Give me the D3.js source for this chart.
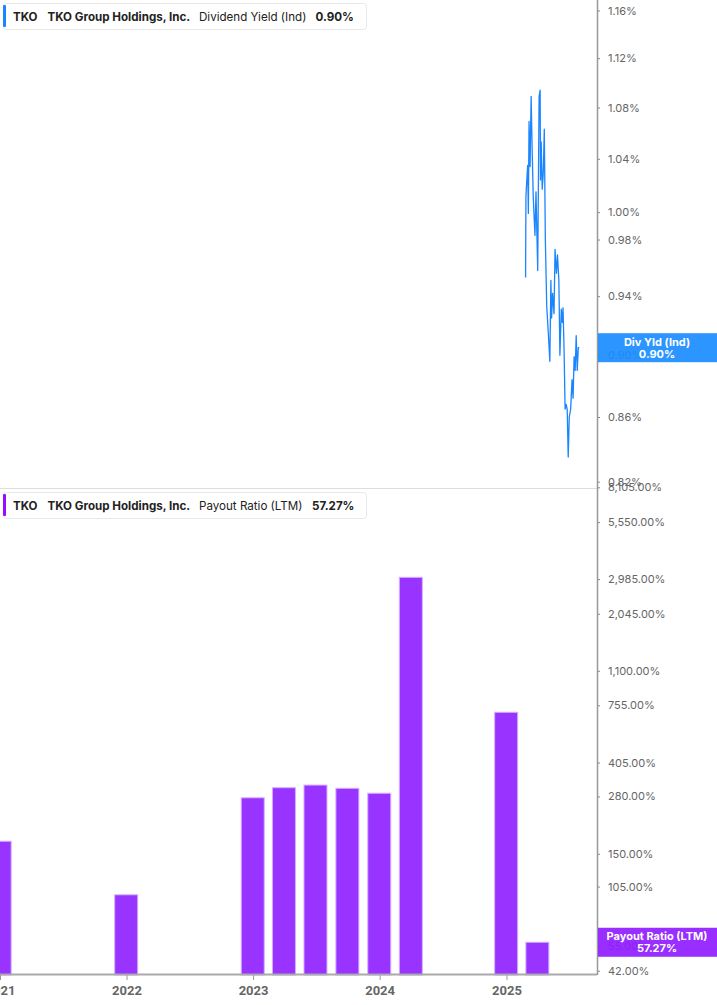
<!DOCTYPE html>
<html>
<head>
<meta charset="utf-8">
<script src="https://cdn.jsdelivr.net/npm/d3@7"></script>
<style>
  body { margin: 0; background: #fff; }
  svg { display: block; font-family: Inter, 'Noto Sans', sans-serif; }
</style>
</head>
<body>
<div id="container"></div>
<script>
var yieldDates = ['2025-02-25', '2025-02-26', '2025-03-03', '2025-03-05', '2025-03-07', '2025-03-10',
  '2025-03-13', '2025-03-16', '2025-03-19', '2025-03-24', '2025-03-27', '2025-04-01', '2025-04-05',
  '2025-04-08', '2025-04-09', '2025-04-11', '2025-04-14', '2025-04-17', '2025-04-20', '2025-04-23',
  '2025-04-27', '2025-05-02', '2025-05-06', '2025-05-09', '2025-05-11', '2025-05-14', '2025-05-18',
  '2025-05-21', '2025-05-25', '2025-05-28', '2025-06-01', '2025-06-04', '2025-06-08', '2025-06-11',
  '2025-06-13', '2025-06-16', '2025-06-19', '2025-06-22', '2025-06-25', '2025-06-28', '2025-07-01',
  '2025-07-05', '2025-07-09', '2025-07-12', '2025-07-15', '2025-07-18', '2025-07-21', '2025-07-24',
  '2025-07-27', '2025-07-30']
var yieldValues = [0.953, 1.012, 1.035, 0.999, 1.069, 1.034,
  1.089, 1.047, 1.012, 0.983, 1.015, 0.958, 1.089,
  1.094, 1.024, 1.053, 1.017, 1.029, 1.063, 0.980,
  0.933, 0.913, 0.896, 0.951, 0.925, 0.942, 0.928,
  0.973, 0.956, 0.969, 0.951, 0.900, 0.931, 0.922,
  0.932, 0.904, 0.865, 0.868, 0.865, 0.835, 0.860,
  0.865, 0.884, 0.872, 0.899, 0.890, 0.913, 0.890,
  0.905, 0.905]

var payoutDates = ['2020-12-31', '2021-12-31', '2022-12-31', '2023-03-31', '2023-06-30',
  '2023-09-30', '2023-12-31', '2024-03-31', '2024-12-31', '2025-03-31']
var payoutValues = [172, 96, 276, 308, 317, 306, 290, 3042, 700, 57.27]

var yieldTicks = [1.16, 1.12, 1.08, 1.04, 1.00, 0.98, 0.94, 0.90, 0.86, 0.82]
var payoutTicks = [8105, 5550, 2985, 2045, 1100, 755, 405, 280, 150, 105, 55, 42]

var width = 717
var height = 1005
var plotRight = 597
var splitY = 488
var baseY = 975

var parse = d3.timeParse('%Y-%m-%d')

var svg = d3.select('#container').append('svg')
    .attr('width', width)
    .attr('height', height)

var x = d3.scaleTime()
    .domain([parse('2021-01-01'), parse('2025-09-19')])
    .range([0, plotRight])

var yTop = d3.scaleLog()
    .domain([0.8168, 1.169])
    .range([splitY - 1, 0])

var yBot = d3.scaleLog()
    .domain([40.1, 8130])
    .range([baseY, splitY - 1])

var pctFormat = function(d){ return d3.format(',.2f')(d) + '%' }

// separator between panels
svg.append('line')
    .attr('x1', 0).attr('x2', plotRight)
    .attr('y1', splitY + 0.5).attr('y2', splitY + 0.5)
    .attr('stroke', '#dddddd')

// payout bars
svg.append('g').selectAll('rect')
    .data(payoutValues)
    .enter()
    .append('rect')
    .attr('x', function(d, i){ return x(parse(payoutDates[i])) - 11.5 })
    .attr('y', function(d){ return yBot(d) })
    .attr('width', 23)
    .attr('height', function(d){ return baseY - yBot(d) })
    .attr('fill', '#9933ff')
    .attr('stroke', '#d4b0ff')
    .attr('stroke-width', 1)

// dividend yield line
var yieldData = yieldDates.map(function(d, i){ return { date: parse(d), value: yieldValues[i] } })

svg.append('path')
    .datum(yieldData)
    .attr('fill', 'none')
    .attr('stroke', '#1a85ff')
    .attr('stroke-width', 1.3)
    .attr('stroke-linejoin', 'round')
    .attr('d', d3.line()
        .x(function(d){ return x(d.date) })
        .y(function(d){ return yTop(d.value) }))

// right axes
function styleAxis(g){
    g.select('.domain').remove()
    g.selectAll('.tick line').attr('stroke', '#888')
    g.selectAll('.tick text')
        .attr('fill', '#666')
        .attr('font-size', 11)
        .attr('font-family', 'Inter, sans-serif')
}

svg.append('g')
    .attr('transform', 'translate(' + plotRight + ',0)')
    .call(d3.axisRight(yTop).tickValues(yieldTicks).tickSize(3).tickPadding(8).tickFormat(pctFormat))
    .call(styleAxis)

svg.append('g')
    .attr('transform', 'translate(' + plotRight + ',0)')
    .call(d3.axisRight(yBot).tickValues(payoutTicks).tickSize(3).tickPadding(8).tickFormat(pctFormat))
    .call(styleAxis)

svg.append('line')
    .attr('x1', plotRight + 0.5).attr('x2', plotRight + 0.5)
    .attr('y1', 0).attr('y2', baseY)
    .attr('stroke', '#999')
    .attr('stroke-width', 1.5)

// bottom time axis
var xAxisG = svg.append('g')
    .attr('transform', 'translate(0,' + (baseY - 1) + ')')
    .call(d3.axisBottom(x).ticks(d3.timeYear.every(1)).tickSize(6).tickPadding(6).tickFormat(d3.timeFormat('%Y')))

xAxisG.select('.domain').remove()
xAxisG.selectAll('.tick line').attr('stroke', '#999')
xAxisG.selectAll('.tick text')
    .attr('fill', '#666')
    .attr('font-size', 13)
    .attr('font-weight', 700)
    .attr('font-family', 'Roboto, sans-serif')

svg.append('line')
    .attr('x1', 0).attr('x2', plotRight)
    .attr('y1', baseY - 0.5).attr('y2', baseY - 0.5)
    .attr('stroke', '#aaa')
    .attr('stroke-width', 2)

// last value badges (slightly see-through, the tick label shows behind)
function badge(yCenter, color, label, value){
    var g = svg.append('g')
    g.append('rect')
        .attr('x', plotRight + 1)
        .attr('y', yCenter - 14.5)
        .attr('width', width - plotRight - 1)
        .attr('height', 29)
        .attr('fill', color)
        .attr('fill-opacity', 0.92)
    g.append('text')
        .attr('x', 657)
        .attr('y', yCenter - 2)
        .attr('text-anchor', 'middle')
        .attr('fill', '#fff')
        .attr('font-size', 11)
        .attr('font-weight', 700)
        .text(label)
    g.append('text')
        .attr('x', 657)
        .attr('y', yCenter + 10)
        .attr('text-anchor', 'middle')
        .attr('fill', '#fff')
        .attr('font-size', 11)
        .attr('font-weight', 700)
        .text(value)
}

badge(yTop(yieldValues[yieldValues.length - 1]), '#1a8cff', 'Div Yld (Ind)', '0.90%')
badge(yBot(payoutValues[payoutValues.length - 1]), '#8f1cff', 'Payout Ratio (LTM)', '57.27%')

// legend boxes
function legend(top, color, metric, value, valueX){
    var g = svg.append('g').attr('transform', 'translate(3,' + top + ')')
    g.append('rect')
        .attr('x', 0.5).attr('y', 0.5)
        .attr('width', 363).attr('height', 26)
        .attr('rx', 3)
        .attr('fill', '#fff')
        .attr('stroke', '#e8e8e8')
    g.append('rect')
        .attr('x', 0).attr('y', 2)
        .attr('width', 3).attr('height', 22)
        .attr('rx', 1)
        .attr('fill', color)
    var parts = [
        { t: 'TKO', x: 10, w: 700 },
        { t: 'TKO Group Holdings, Inc.', x: 44.5, w: 700 },
        { t: metric, x: 196, w: 400 },
        { t: value, x: valueX, w: 700 }
    ]
    g.selectAll('text')
        .data(parts)
        .enter()
        .append('text')
        .attr('x', function(d){ return d.x })
        .attr('y', 18)
        .attr('fill', '#222')
        .attr('font-size', 11.6)
        .attr('font-weight', function(d){ return d.w })
        .text(function(d){ return d.t })
}

legend(3, '#1a85ff', 'Dividend Yield (Ind)', '0.90%', 312.5)
legend(492, '#9010ff', 'Payout Ratio (LTM)', '57.27%', 309)
</script>
</body>
</html>
